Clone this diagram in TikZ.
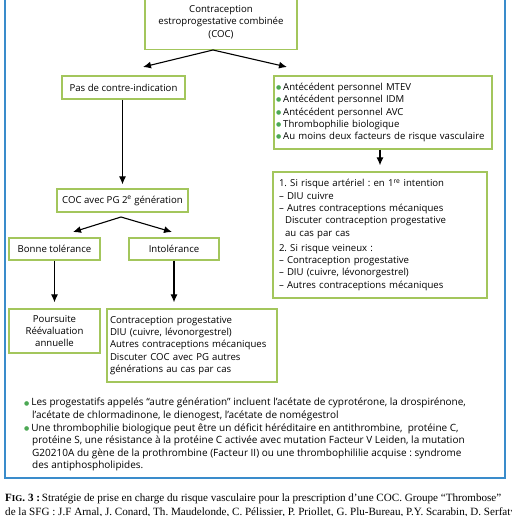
\documentclass[tikz,border=0pt]{standalone}
\usepackage{fontspec}
\setmainfont{Open Sans}
\newfontfamily\capfont{Liberation Serif}
\newfontfamily\dotfont{DejaVu Sans}
\usetikzlibrary{arrows.meta}
\frenchspacing

\definecolor{boxgreen}{RGB}{163,198,92}
\definecolor{dotgreen}{RGB}{76,168,84}
\definecolor{frameblue}{RGB}{58,140,203}

\newcommand{\gdot}{\raisebox{0.8pt}{\color{dotgreen}\dotfont\fontsize{6}{6}\selectfont ●}\hspace{2pt}}

\begin{document}
\begin{tikzpicture}[x=1pt,y=-1pt,
    box/.style={draw=boxgreen,line width=1.3pt,inner ysep=0pt,
        font=\fontsize{9.6}{12.3}\selectfont},
    arr/.style={-{Latex[length=8pt,width=7pt]},line width=1.1pt}]
    \useasboundingbox (0,0) rectangle (511,516);

    % outer frame
    \draw[frameblue,line width=1.8pt] (5,-10) rectangle (505,478);

    % top of the tree
    \node[box,align=center,minimum width=152pt,minimum height=55pt,
        inner xsep=0pt] (coc) at (221,22)
        {Contraception\\estroprogestative combinée\\(COC)};
    \node[box,align=center,minimum width=123pt,minimum height=23pt,
        inner xsep=0pt] (pas) at (123.5,87.5) {Pas de contre-indication};
    \node[box,align=left,text width=214pt,minimum height=73pt,
        inner xsep=2pt] (risk) at (383,112.5)
        {\gdot Antécédent personnel MTEV\\
         \gdot Antécédent personnel IDM\\
         \gdot Antécédent personnel AVC\\
         \gdot Thrombophilie biologique\\
         \gdot Au moins deux facteurs de risque vasculaire};

    % risk side
    \node[box,align=left,text width=202pt,minimum height=126pt,
        inner xsep=6pt] (strat) at (380,235)
        {1. Si risque artériel : en 1\textsuperscript{re} intention\\
         – DIU cuivre\\
         – Autres contraceptions mécaniques\\
         \hspace*{6pt}Discuter contraception progestative\\
         \hspace*{6pt}au cas par cas\\[3pt]
         2. Si risque veineux :\\
         – Contraception progestative\\
         – DIU (cuivre, lévonorgestrel)\\
         – Autres contraceptions mécaniques};

    % no contra-indication side
    \node[box,align=center,minimum width=131pt,minimum height=23pt,
        inner xsep=0pt] (pg) at (122.5,200.5)
        {COC avec PG 2\textsuperscript{e} génération};
    \node[box,align=center,minimum width=91pt,minimum height=22pt,
        inner xsep=0pt] (bonne) at (54.5,249) {Bonne tolérance};
    \node[box,align=center,minimum width=90pt,minimum height=22pt,
        inner xsep=0pt] (intol) at (174,249) {Intolérance};
    \node[box,align=center,minimum width=91pt,minimum height=44pt,
        inner xsep=0pt] (suite) at (54.5,331)
        {Poursuite\\Réévaluation\\annuelle};
    \node[box,align=left,text width=164pt,minimum height=73pt,
        inner xsep=3pt] (prog) at (192,345.5)
        {Contraception progestative\\
         DIU (cuivre, lévonorgestrel)\\
         Autres contraceptions mécaniques\\
         Discuter COC avec PG autres\\
         générations au cas par cas};

    % arrows
    \coordinate (split) at (213,50);
    \coordinate (pasin) at (143,67);
    \coordinate (riskin) at (287,67);
    \coordinate (pgout) at (121,217);
    \coordinate (bonnein) at (73,232);
    \coordinate (intolin) at (172,232);
    \draw[arr] (split) -- (pasin);
    \draw[arr] (split) -- (riskin);
    \draw[arr,shorten >=4pt] (pas.south -| pg.north) -- (pg.north);
    \draw[arr,shorten >=6pt] (risk.south -| strat.north) -- (strat.north);
    \draw[arr] (pgout) -- (bonnein);
    \draw[arr] (pgout) -- (intolin);
    \draw[arr,shorten >=6pt] (bonne.south) -- (suite.north);
    \draw[arr,shorten >=6pt] (intol.south) -- (intol.south |- prog.north);

    % notes
    \node[anchor=north west,align=left,inner sep=0pt,
        font=\fontsize{10}{12.6}\selectfont] (notes) at (24,398)
        {\gdot Les progestatifs appelés “autre génération” incluent l’acétate de cyprotérone, la drospirénone,\\
         \hspace*{8pt}l’acétate de chlormadinone, le dienogest, l’acétate de nomégestrol\\
         \gdot Une thrombophilie biologique peut être un déficit héréditaire en antithrombine,\ \ protéine C,\\
         \hspace*{8pt}protéine S, une résistance à la protéine C activée avec mutation Facteur V Leiden, la mutation\\
         \hspace*{8pt}G20210A du gène de la prothrombine (Facteur II) ou une thrombophililie acquise : syndrome\\
         \hspace*{8pt}des antiphospholipides.};

    % caption
    \node[anchor=north west,align=left,inner sep=0pt,
        font=\capfont\fontsize{11.1}{13.5}\selectfont] (caption) at (5,494)
        {\textbf{F{\small IG}. 3 :}\,Stratégie de prise en charge du risque vasculaire pour la prescription d’une COC. Groupe “Thrombose”\\
         de la SFG : J.F Arnal, J. Conard, Th. Maudelonde, C. Pélissier, P. Priollet, G. Plu-Bureau, P.Y. Scarabin, D. Serfaty};
\end{tikzpicture}
\end{document}
